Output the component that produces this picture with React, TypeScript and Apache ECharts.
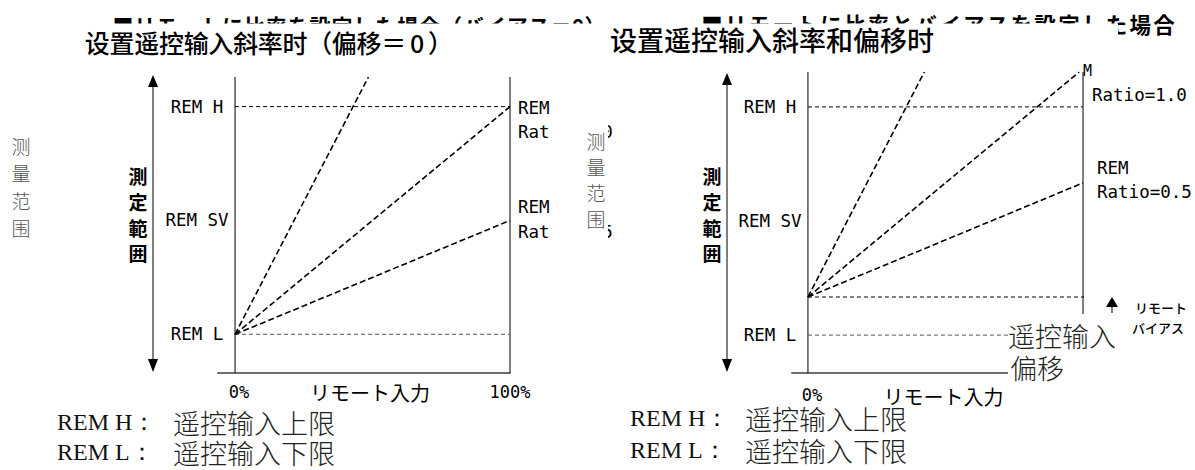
import React, { useEffect, useRef } from 'react';
import * as echarts from 'echarts';

// ---- data (remote input % on x, measuring range on y: REM L = 0, REM H = 100) ----
const xTickValues = [0, 100];
const xTickLabels = ['0%', '100%'];
const levelValues = [0, 50, 100];
const levelLabels = ['REM L', 'REM SV', 'REM H'];
const remHLine = [[0, 100], [100, 100]];
const remLLine = [[0, 0], [100, 0]];
const leftFrameL = [[0, -17], [0, 113]];
const leftFrameR = [[100, -17], [100, 113]];
const leftSteep = [[0, 0], [48.5, 113]];
const leftRatio10 = [[0, 0], [100, 100]];
const leftRatio05 = [[0, 0], [100, 50]];
const biasValue = 16.7;
const biasLine = [[0, biasValue], [111.6, biasValue]];
const rightFrameL = [[0, -16.6], [0, 115.3]];
const rightFrameR = [[100, -16.6], [100, 115.3]];
const rightSteep = [[0, biasValue], [42.3, 115.3]];
const rightRatio10 = [[0, biasValue], [98.6, 115.3]];
const rightRatio05 = [[0, biasValue], [100, 66.7]];

const MONO = '"DejaVu Sans Mono", monospace';
const SC = '"Noto Sans CJK SC", sans-serif';
const JP = '"Noto Sans CJK JP", sans-serif';
const SERIF = '"Liberation Serif", serif';

function lineSeries(data: number[][], idx: number, color: string, width: number, type: any, clip = true) {
  return {
    type: 'line', data, xAxisIndex: idx, yAxisIndex: idx, symbol: 'none', silent: true, clip,
    lineStyle: { color, width, type }, z: 3,
  };
}

// one text element whose characters sit on a fixed pitch (rich tokens with fixed width)
function spacedRow(str: string, x0: number, pitch: number, yc: number, size: number, z: number) {
  const body = Array.from(str).map((ch) => (/[0-9]/.test(ch) ? '{h|' + ch + '}' : '{c|' + ch + '}')).join('');
  return {
    type: 'text', x: x0, y: yc, z,
    style: {
      text: body, textAlign: 'left', textVerticalAlign: 'middle', fill: '#000',
      rich: {
        c: { width: pitch, align: 'center', fontSize: size, fontWeight: 'bold', fontFamily: JP, fill: '#000' },
        h: { width: pitch * 0.55, align: 'center', fontSize: size, fontWeight: 'bold', fontFamily: JP, fill: '#000' },
      },
    },
  };
}

function txt(text: string, x: number, y: number, o: any = {}, z = 60) {
  return {
    type: 'text', x, y, z,
    style: Object.assign({ text, fill: '#000', textAlign: 'left', textVerticalAlign: 'middle', fontSize: 17.5, fontFamily: MONO }, o),
  };
}

function arrow(x: number, yTop: number, yBot: number) {
  return [
    { type: 'line', z: 60, shape: { x1: x, y1: yTop + 8, x2: x, y2: yBot - 8 }, style: { stroke: '#000', lineWidth: 1 } },
    { type: 'polygon', z: 60, shape: { points: [[x, yTop], [x - 5, yTop + 12], [x + 5, yTop + 12]] }, style: { fill: '#000' } },
    { type: 'polygon', z: 60, shape: { points: [[x, yBot], [x - 5, yBot - 13], [x + 5, yBot - 13]] }, style: { fill: '#000' } },
  ];
}

function makeX(idx: number, left: boolean) {
  return {
    type: 'value', gridIndex: idx, min: left ? -6.2 : -5.8, max: 100,
    axisLine: { show: true, onZero: false, lineStyle: { color: '#6e6e6e', width: 2 } },
    axisTick: { show: false }, splitLine: { show: false },
    axisLabel: {
      customValues: xTickValues, margin: left ? 10 : 13, color: '#000',
      formatter: (v: number) => (v === 0 ? '{a|' + xTickLabels[0] + '}' : '{b|' + xTickLabels[1] + '}'),
      rich: {
        a: { fontFamily: MONO, fontSize: 17, padding: [0, 0, 0, 8], color: '#000' },
        b: { fontFamily: MONO, fontSize: 17, color: '#000' },
      },
    },
    name: 'リモート入力', nameLocation: 'middle', nameGap: left ? 19 : 23, nameMoveOverlap: false,
    nameTextStyle: { fontFamily: JP, fontSize: 20, color: '#000', verticalAlign: 'middle', padding: [0, 0, 0, 12] },
  };
}

function makeY(idx: number, min: number, max: number, margin: number) {
  return {
    type: 'value', gridIndex: idx, min, max,
    axisLine: { show: false }, axisTick: { show: false }, splitLine: { show: false },
    axisLabel: {
      customValues: levelValues, align: 'center', margin, color: '#000', fontFamily: MONO, fontSize: 17.5,
      formatter: (v: number) => levelLabels[levelValues.indexOf(v)],
    },
  };
}

export default function App() {
  const ref = useRef<HTMLDivElement>(null);
  useEffect(() => {
    if (!ref.current) return;
    const chart = echarts.init(ref.current, null, { renderer: 'svg' });
    const dashBlack = [6, 3];
    const titleL = Array.from('设置遥控输入斜率时（偏移＝').map((c) => '{t|' + c + '}').join('') + '{z|0}{t|）}';
    const graphic: any[] = [
      spacedRow('■リモートに比率を設定した場合（バイアス＝0）', 112, 21.9, 25, 21, 10),
      spacedRow('■リモートに比率とバイアスを設定した場合', 700, 23.8, 23, 21.5, 10),
      { type: 'rect', z: 11, shape: { x: 80, y: 23.5, width: 1038, height: 40 }, style: { fill: '#fff' } },
      {
        type: 'text', x: 85, y: 41.5, z: 12,
        style: {
          text: titleL, textAlign: 'left', textVerticalAlign: 'middle', fill: '#000',
          rich: {
            t: { width: 24.7, align: 'center', fontSize: 25, fontFamily: SC, fontWeight: 500, fill: '#000' },
            z: { width: 22, align: 'center', fontSize: 25, fontFamily: SC, fontWeight: 500, fill: '#000' },
          },
        },
      },
      txt('设置遥控输入斜率和偏移时', 610, 39, { fontFamily: SC, fontSize: 27, fontWeight: 500 }, 12),
      // left side gray / bold vertical texts
      txt('测\n量\n范\n围', 21, 132, { fontFamily: SC, fontSize: 19, fill: '#555', textAlign: 'center', textVerticalAlign: 'top', lineHeight: 27.3, fontWeight: 300 }),
      txt('測\n定\n範\n囲', 138, 163, { fontFamily: JP, fontSize: 19, fontWeight: 'bold', textAlign: 'center', textVerticalAlign: 'top', lineHeight: 25.7 }),
      txt('測\n定\n範\n囲', 712, 163, { fontFamily: JP, fontSize: 19, fontWeight: 'bold', textAlign: 'center', textVerticalAlign: 'top', lineHeight: 25.7 }),
      ...arrow(153, 75, 372),
      ...arrow(727, 73, 372),
      // left ratio labels (partly hidden by the right panel's text box)
      txt('REM\nRatio=1.0', 518, 96, { textVerticalAlign: 'top', lineHeight: 24 }, 20),
      txt('REM\nRatio=0.5', 518, 194.5, { textVerticalAlign: 'top', lineHeight: 25 }, 20),
      { type: 'rect', z: 30, shape: { x: 551, y: 123, width: 57, height: 118 }, style: { fill: '#fff' } },
      txt('测\n量\n范\n围', 596, 127, { fontFamily: SC, fontSize: 19, fill: '#555', textAlign: 'center', textVerticalAlign: 'top', lineHeight: 26, fontWeight: 300 }, 31),
      // right ratio labels
      txt('M', 1083, 71, { fontSize: 15 }),
      txt('Ratio=1.0', 1092, 95, {}),
      txt('REM\nRatio=0.5', 1097, 156, { textVerticalAlign: 'top', lineHeight: 24 }),
      // remote input bias box
      { type: 'rect', z: 50, shape: { x: 1008, y: 314, width: 118, height: 92 }, style: { fill: '#fff' } },
      txt('遥控输入', 1008, 335, { fontFamily: SC, fontSize: 27, fontWeight: 300, fill: '#222' }),
      txt('偏移', 1010, 367, { fontFamily: SC, fontSize: 27, fontWeight: 300, fill: '#222' }),
      { type: 'polygon', z: 60, shape: { points: [[1112, 297], [1106, 307], [1118, 307]] }, style: { fill: '#000' } },
      { type: 'line', z: 60, shape: { x1: 1112, y1: 306, x2: 1112, y2: 313 }, style: { stroke: '#000', lineWidth: 1 } },
      txt('リモート', 1135, 307, { fontFamily: JP, fontSize: 13, fontWeight: 500 }),
      txt('バイアス', 1132, 327, { fontFamily: JP, fontSize: 13, fontWeight: 500 }),
      // notes
      txt('REM H：', 57, 422, { fontFamily: SERIF, fontSize: 24, fill: '#111' }),
      txt('遥控输入上限', 173, 422, { fontFamily: SC, fontSize: 27, fontWeight: 300, fill: '#222' }),
      txt('REM L：', 57, 452, { fontFamily: SERIF, fontSize: 24, fill: '#111' }),
      txt('遥控输入下限', 173, 452, { fontFamily: SC, fontSize: 27, fontWeight: 300, fill: '#222' }),
      txt('REM H：', 630, 418, { fontFamily: SERIF, fontSize: 24, fill: '#111' }),
      txt('遥控输入上限', 745, 418, { fontFamily: SC, fontSize: 27, fontWeight: 300, fill: '#222' }),
      txt('REM L：', 630, 450, { fontFamily: SERIF, fontSize: 24, fill: '#111' }),
      txt('遥控输入下限', 745, 450, { fontFamily: SC, fontSize: 27, fontWeight: 300, fill: '#222' }),
    ];
    chart.setOption({
      animation: false,
      backgroundColor: '#fff',
      grid: [
        { left: 218, width: 292, top: 77, height: 296 },
        { left: 792, width: 291, top: 72, height: 301 },
      ],
      xAxis: [makeX(0, true), makeX(1, false)],
      yAxis: [makeY(0, -17, 113, 21), makeY(1, -16.6, 115.3, 22)],
      series: [
        lineSeries(leftFrameL, 0, '#000', 1, 'solid'),
        lineSeries(leftFrameR, 0, '#000', 1, 'solid'),
        lineSeries(remHLine, 0, '#000', 1, [4, 3]),
        lineSeries(remLLine, 0, '#555', 1, [4, 3]),
        lineSeries(leftSteep, 0, '#000', 1.6, dashBlack),
        lineSeries(leftRatio10, 0, '#000', 1.6, dashBlack),
        lineSeries(leftRatio05, 0, '#000', 1.6, dashBlack),
        lineSeries(rightFrameL, 1, '#000', 1, 'solid'),
        lineSeries(rightFrameR, 1, '#000', 1, 'solid'),
        lineSeries(remHLine, 1, '#000', 1, [4, 3]),
        lineSeries(remLLine, 1, '#555', 1, [4, 3]),
        lineSeries(biasLine, 1, '#000', 1, [4, 3], false),
        lineSeries(rightSteep, 1, '#000', 1.6, dashBlack),
        lineSeries(rightRatio10, 1, '#000', 1.6, dashBlack),
        lineSeries(rightRatio05, 1, '#000', 1.6, dashBlack),
      ],
      graphic: { elements: graphic },
    });
    return () => chart.dispose();
  }, []);
  return <div ref={ref} style={{ position: 'fixed', left: 0, top: 0, width: 1195, height: 470 }} />;
}
